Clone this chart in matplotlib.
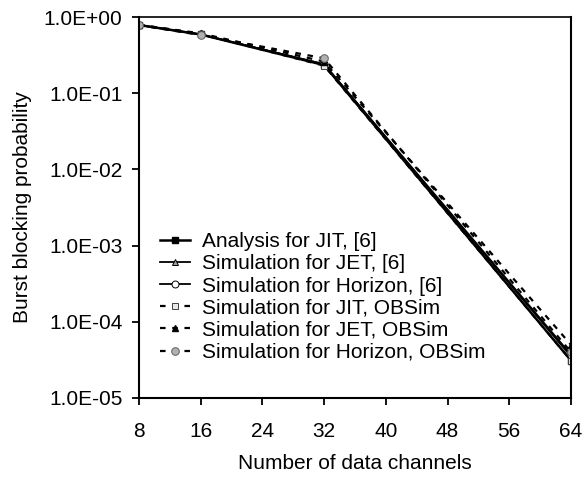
import matplotlib.pyplot as plt
from matplotlib.ticker import FixedLocator, NullLocator

plt.rcParams['font.family'] = ['Liberation Sans', 'DejaVu Sans']

channels = [8, 16, 32, 64]
jit_analysis = [0.785, 0.59, 0.234, 3.1e-5]
jet_sim = [0.785, 0.59, 0.24, 3.5e-5]
horizon_sim = [0.785, 0.59, 0.24, 3.7e-5]
jit_obsim = [0.79, 0.60, 0.23, 3.1e-5]
jet_obsim = [0.79, 0.61, 0.26, 5.0e-5]
horizon_obsim = [0.78, 0.58, 0.287, 4.0e-5]

x_ticks = [8, 16, 24, 32, 40, 48, 56, 64]
y_ticks = [1e0, 1e-1, 1e-2, 1e-3, 1e-4, 1e-5]
y_labels = ['1.0E+00', '1.0E-01', '1.0E-02', '1.0E-03', '1.0E-04', '1.0E-05']

fig = plt.figure(figsize=(5.83, 4.78), dpi=100)
ax = fig.add_axes([0.2384, 0.1674, 0.741, 0.797])

dash = (0, (2.5, 3))
ax.plot(channels, jit_analysis, color='black', lw=1.8, marker='s', ms=5,
        mfc='black', mec='black', label='Analysis for JIT, [6]')
ax.plot(channels, jet_sim, color='black', lw=1.3, marker='^', ms=5,
        mfc='#a0a0a0', mec='black', mew=0.7, label='Simulation for JET, [6]')
ax.plot(channels, horizon_sim, color='black', lw=1.3, marker='o', ms=5,
        mfc='white', mec='black', mew=0.7, label='Simulation for Horizon, [6]')
ax.plot(channels, jit_obsim, color='black', lw=1.6, ls=dash, marker='s', ms=5,
        mfc='#e8e8e8', mec='#404040', mew=0.7, label='Simulation for JIT, OBSim')
ax.plot(channels, jet_obsim, color='black', lw=1.6, ls=dash, marker='^', ms=5,
        mfc='black', mec='black', label='Simulation for JET, OBSim')
ax.plot(channels, horizon_obsim, color='black', lw=1.6, ls=dash, marker='o', ms=5.5,
        mfc='#b0b0b0', mec='#606060', mew=0.7, label='Simulation for Horizon, OBSim')

ax.set_yscale('log')
ax.set_xlim(8, 64)
ax.set_ylim(1e-5, 1e0)
ax.xaxis.set_major_locator(FixedLocator(x_ticks))
ax.yaxis.set_major_locator(FixedLocator(y_ticks))
ax.yaxis.set_minor_locator(NullLocator())
ax.set_yticklabels(y_labels)
ax.tick_params(axis='both', labelsize=15, direction='out', length=5, width=1.3,
               colors='black')
ax.tick_params(axis='y', pad=7)
ax.tick_params(axis='x', pad=12)
for s in ax.spines.values():
    s.set_linewidth(1.5)
ax.spines['top'].set_linewidth(1.2)

ax.set_xlabel('Number of data channels', fontsize=15, labelpad=10)
ax.set_ylabel('Burst blocking probability', fontsize=15, labelpad=8)

ax.legend(loc='upper left', bbox_to_anchor=(0.049, 0.435), frameon=False, fontsize=15,
          handlelength=1.45, handletextpad=0.55, labelspacing=0.15,
          borderpad=0, borderaxespad=0)

plt.savefig('out.png', dpi=100)
